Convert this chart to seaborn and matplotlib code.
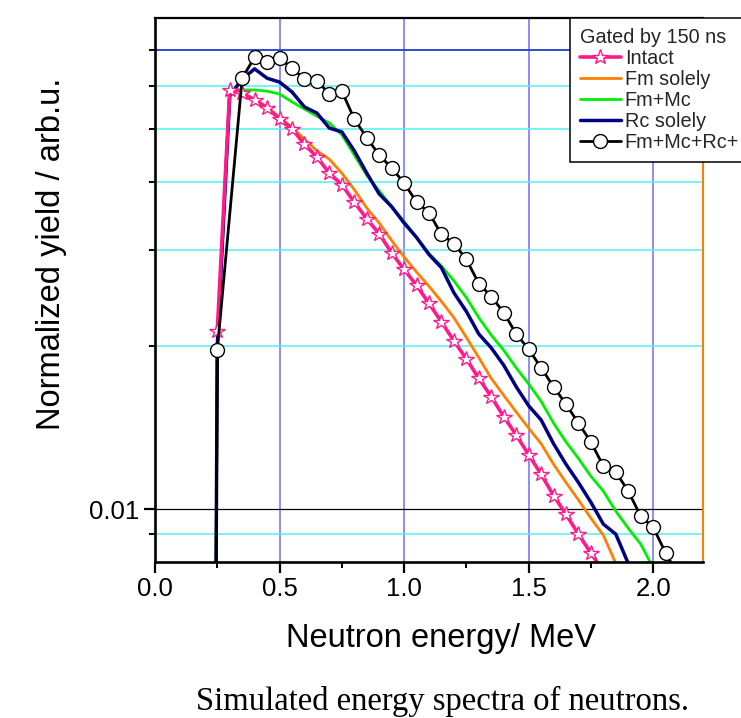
import matplotlib
matplotlib.use("Agg")
import matplotlib.pyplot as plt
import matplotlib.ticker as mticker
import seaborn as sns

# ---------------- data ----------------
energy_intact = [0.25, 0.30, 0.35, 0.40, 0.45, 0.50, 0.55, 0.60, 0.65, 0.70,
                 0.75, 0.80, 0.85, 0.90, 0.95, 1.00, 1.05, 1.10, 1.15, 1.20,
                 1.25, 1.30, 1.35, 1.40, 1.45, 1.50, 1.55, 1.60, 1.65, 1.70,
                 1.75, 1.80]
yield_intact = [0.0213, 0.0590, 0.0582, 0.0565, 0.0547, 0.0522, 0.0500, 0.0469,
                0.0444, 0.0415, 0.0395, 0.0367, 0.0342, 0.0321, 0.0296, 0.0276,
                0.0258, 0.0239, 0.0221, 0.0204, 0.0189, 0.0174, 0.0161, 0.0148,
                0.0137, 0.0126, 0.0116, 0.0106, 0.00979, 0.00900, 0.00831, 0.00768]

energy_fm = [0.20, 0.25, 0.30, 0.35, 0.40, 0.45, 0.50, 0.55, 0.60, 0.65, 0.70,
             0.75, 0.80, 0.85, 0.90, 0.95, 1.00, 1.05, 1.10, 1.15, 1.20, 1.25,
             1.30, 1.35, 1.40, 1.45, 1.50, 1.55, 1.60, 1.65, 1.70, 1.75, 1.80, 1.85]
yield_fm = [1e-6, 0.0200, 0.0587, 0.0582, 0.0568, 0.0549, 0.0526, 0.0504, 0.0479,
            0.0456, 0.0440, 0.0415, 0.0387, 0.0358, 0.0336, 0.0312, 0.0291, 0.0273,
            0.0257, 0.0241, 0.0225, 0.0207, 0.0190, 0.0174, 0.0162, 0.0151, 0.0141,
            0.0132, 0.0121, 0.0112, 0.0104, 0.00963, 0.00896, 0.00795]

energy_fmmc = [0.20, 0.25, 0.30, 0.35, 0.40, 0.45, 0.50, 0.55, 0.60, 0.65, 0.70,
               0.75, 0.80, 0.85, 0.90, 0.95, 1.00, 1.05, 1.10, 1.15, 1.20, 1.25,
               1.30, 1.35, 1.40, 1.45, 1.50, 1.55, 1.60, 1.65, 1.70, 1.75, 1.80,
               1.85, 1.90, 1.95, 2.00]
yield_fmmc = [1e-6, 0.0200, 0.0587, 0.0590, 0.0590, 0.0587, 0.0580, 0.0561, 0.0544,
              0.0528, 0.0513, 0.0488, 0.0448, 0.0411, 0.0385, 0.0360, 0.0338, 0.0316,
              0.0295, 0.0280, 0.0263, 0.0245, 0.0225, 0.0209, 0.0196, 0.0182, 0.0170,
              0.0158, 0.0144, 0.0133, 0.0124, 0.0115, 0.0108, 0.00992, 0.00923,
              0.00863, 0.0078]

energy_rc = [0.20, 0.25, 0.30, 0.35, 0.40, 0.45, 0.50, 0.55, 0.60, 0.65, 0.70,
             0.75, 0.80, 0.85, 0.90, 0.95, 1.00, 1.05, 1.10, 1.15, 1.20, 1.25,
             1.30, 1.35, 1.40, 1.45, 1.50, 1.55, 1.60, 1.65, 1.70, 1.75, 1.80,
             1.85, 1.90]
yield_rc = [1e-6, 0.0200, 0.0575, 0.0618, 0.0645, 0.0620, 0.0610, 0.0585, 0.0549,
            0.0535, 0.0502, 0.0494, 0.0456, 0.0415, 0.0380, 0.0360, 0.0336, 0.0316,
            0.0294, 0.0278, 0.0250, 0.0231, 0.0210, 0.0198, 0.0184, 0.0168, 0.0155,
            0.0146, 0.0132, 0.0121, 0.0112, 0.0103, 0.00939, 0.00900, 0.00795]

energy_all = [0.20, 0.25, 0.35, 0.40, 0.45, 0.50, 0.55, 0.60, 0.65, 0.70, 0.75,
              0.80, 0.85, 0.90, 0.95, 1.00, 1.05, 1.10, 1.15, 1.20, 1.25, 1.30,
              1.35, 1.40, 1.45, 1.50, 1.55, 1.60, 1.65, 1.70, 1.75, 1.80, 1.85,
              1.90, 1.95, 2.00, 2.05, 2.10]
yield_all = [1e-6, 0.0196, 0.0620, 0.0678, 0.0664, 0.0675, 0.0647, 0.0618, 0.0613,
             0.0580, 0.0587, 0.0522, 0.0482, 0.0448, 0.0424, 0.0398, 0.0367, 0.0351,
             0.0320, 0.0308, 0.0288, 0.0260, 0.0246, 0.0230, 0.0210, 0.0197, 0.0182,
             0.0168, 0.0156, 0.0144, 0.0133, 0.0120, 0.0117, 0.0108, 0.00971,
             0.00927, 0.00831, 0.00757]

series_labels = ["Intact", "Fm solely", "Fm+Mc", "Rc solely", "Fm+Mc+Rc+"]
legend_title = "Gated by 150 ns"
x_ticks = [0.0, 0.5, 1.0, 1.5, 2.0]
y_major_ticks = [0.01]
y_minor_ticks = [0.009, 0.02, 0.03, 0.04, 0.05, 0.06, 0.07]
xlabel = "Neutron energy/ MeV"
ylabel = "Normalized yield / arb.u."
caption = "Simulated energy spectra of neutrons."

# ---------------- style ----------------
sns.set_theme(style="white")
plt.rcParams["font.family"] = ["Liberation Sans", "DejaVu Sans"]

fig = plt.figure(figsize=(7.41, 7.18), dpi=100)
ax = fig.add_axes([155 / 741, 1 - 562 / 718, 548 / 741, 544 / 718])

PINK = "#ff1a8c"
ORANGE = "#ff8000"
GREEN = "#00ee00"
NAVY = "#000080"

sns.lineplot(x=energy_fm, y=yield_fm, ax=ax, color=ORANGE, lw=2.0,
             label=series_labels[1], zorder=2.1)
sns.lineplot(x=energy_fmmc, y=yield_fmmc, ax=ax, color=GREEN, lw=2.0,
             label=series_labels[2], zorder=2.2)
sns.lineplot(x=energy_rc, y=yield_rc, ax=ax, color=NAVY, lw=2.5,
             label=series_labels[3], zorder=2.3)
sns.lineplot(x=energy_intact, y=yield_intact, ax=ax, color=PINK, lw=2.6,
             marker="*", markersize=11.5, markerfacecolor="white",
             markeredgecolor=PINK, markeredgewidth=1.0,
             markevery=list(range(len(energy_intact) - 1)),
             label=series_labels[0], zorder=2.4)
sns.lineplot(x=energy_all, y=yield_all, ax=ax, color="black", lw=2.0,
             marker="o", markersize=10, markerfacecolor="white",
             markeredgecolor="black", markeredgewidth=1.0,
             markevery=list(range(1, len(energy_all) - 1)),
             label=series_labels[4], zorder=2.5)

ax.set_yscale("log")
ax.set_xlim(0, 2.2)
ax.set_ylim(0.008, 0.08)

ax.xaxis.set_major_locator(mticker.FixedLocator(x_ticks))
ax.xaxis.set_major_formatter(mticker.FormatStrFormatter("%.1f"))
ax.xaxis.set_minor_locator(mticker.MultipleLocator(0.25))
ax.yaxis.set_major_locator(mticker.FixedLocator(y_major_ticks))
ax.yaxis.set_major_formatter(mticker.FixedFormatter(["0.01"]))
ax.yaxis.set_minor_locator(mticker.FixedLocator(y_minor_ticks))
ax.yaxis.set_minor_formatter(mticker.NullFormatter())

ax.tick_params(axis="both", which="major", direction="out", length=8, width=1.6,
               labelsize=18.5, color="black", labelcolor="black",
               left=True, bottom=True, pad=3)
ax.tick_params(axis="both", which="minor", direction="out", length=4.5, width=1.4,
               color="black", left=True, bottom=True)

# grid
ax.set_axisbelow(True)
ax.grid(which="major", axis="x", color="#6e6eff", lw=1.1)
ax.grid(which="major", axis="y", color="black", lw=0.9)
ax.grid(which="minor", axis="y", color="#55f0f0", lw=1.1)
ax.grid(which="minor", axis="x", visible=False)
ax.axhline(y_minor_ticks[-1], color="#1c1cc8", lw=1.1, zorder=1.2)

for side in ["left", "bottom"]:
    ax.spines[side].set_color("black")
    ax.spines[side].set_linewidth(1.9)
ax.spines["top"].set_color("black")
ax.spines["top"].set_linewidth(1.6)
ax.spines["right"].set_color(ORANGE)
ax.spines["right"].set_linewidth(1.5)

ax.set_xlabel(xlabel, fontsize=23.5, color="black")
ax.set_ylabel(ylabel, fontsize=23.5, color="black")
ax.xaxis.set_label_coords(0.522, -0.112)
ax.yaxis.set_label_coords(-0.16, 0.566)

# legend in the reference order
handles, labels = ax.get_legend_handles_labels()
order = [labels.index(l) for l in series_labels]
leg = ax.legend([handles[i] for i in order], [labels[i] for i in order],
                title=legend_title, loc="upper left",
                bbox_to_anchor=(0.757, 1.0), borderaxespad=0,
                fontsize=14.3, title_fontsize=14.3, alignment="left",
                frameon=True, fancybox=False, framealpha=1,
                edgecolor="black", handlelength=2.06, handletextpad=0.2,
                labelspacing=0.1, borderpad=0.5)
leg.get_frame().set_linewidth(1.1)

fig.text(443 / 741, 1 - 701 / 718, caption, ha="center", va="center",
         fontsize=23.5, family=["Liberation Serif", "DejaVu Serif"], color="black")

fig.savefig("out.png", dpi=100)
